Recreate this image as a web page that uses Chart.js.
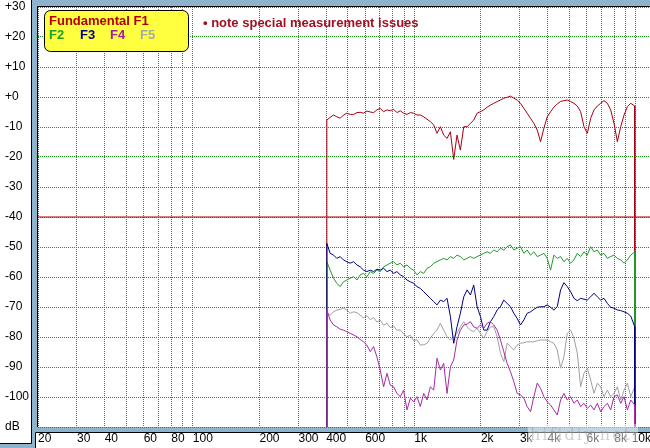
<!DOCTYPE html>
<html>
<head>
<meta charset="utf-8">
<title>Harmonic distortion</title>
<script src="https://cdn.jsdelivr.net/npm/chart.js@4.4.1/dist/chart.umd.min.js"></script>
<style>
  html, body { margin: 0; padding: 0; background: #8db4cc; }
  #wrap { position: relative; width: 650px; height: 448px; }
</style>
</head>
<body>
<div id="wrap"><canvas id="hdChart" width="650" height="448"></canvas></div>
<script>
// measurement frequencies (Hz), shared by all traces
const freqs = [
  403, 417, 432, 447, 463, 479, 496, 514, 532, 551,
  570, 590, 611, 633, 655, 678, 702, 727, 753, 779,
  807, 835, 865, 895, 927, 960, 993, 1029, 1065, 1103,
  1142, 1182, 1224, 1267, 1312, 1358, 1406, 1456, 1507, 1560,
  1615, 1673, 1732, 1793, 1856, 1922, 1990, 2060, 2133, 2208,
  2286, 2367, 2451, 2537, 2627, 2720, 2816, 2915, 3018, 3125,
  3235, 3350, 3468, 3591, 3717, 3849, 3985, 4126, 4271, 4422,
  4579, 4740, 4908, 5081, 5261, 5447, 5639, 5839, 6045, 6259,
  6480, 6709, 6946, 7191, 7445, 7709, 7981, 8263, 8555, 8857,
  9170, 9494, 9900
];

// Fundamental F1 (dB)
const f1 = [
  -7.7, -6.8, -6.0, -6.6, -7.1, -6.0, -5.4, -5.8, -5.8, -5.2,
  -5.1, -5.4, -4.7, -5.0, -5.2, -4.3, -3.8, -4.9, -4.3, -4.6,
  -4.1, -5.2, -4.6, -5.4, -5.8, -5.2, -5.4, -6.0, -6.0, -6.6,
  -7.4, -8.2, -9.3, -12.1, -9.9, -12.7, -13.8, -11.6, -20.8, -12.7,
  -17.7, -9.9, -9.9, -8.8, -7.7, -5.4, -4.9, -4.3, -3.4, -2.7,
  -2.1, -1.5, -1.0, -0.4, -0.1, 0.3, -0.4, -1.0, -2.1, -3.8,
  -5.4, -7.1, -8.8, -11.0, -14.9, -10.4, -6.6, -4.9, -3.4, -2.3,
  -1.5, -1.2, -1.0, -1.5, -2.1, -3.0, -4.9, -9.9, -12.1, -7.1,
  -4.3, -3.0, -2.1, -1.2, -2.1, -4.3, -8.8, -14.9, -9.9, -6.0,
  -3.2, -2.1, -3.0
];

// F2
const f2 = [
  -54.9, -57.7, -60.4, -62.1, -63.2, -61.6, -61.0, -60.4, -59.9, -61.0,
  -59.3, -58.8, -59.9, -58.2, -58.8, -57.7, -58.2, -56.6, -56.0, -55.4,
  -54.9, -56.0, -55.4, -56.6, -56.0, -57.1, -57.7, -59.3, -58.2, -58.8,
  -57.1, -56.6, -55.4, -54.9, -54.3, -53.8, -54.3, -53.2, -53.8, -52.7,
  -53.2, -54.3, -53.8, -53.2, -53.8, -53.2, -52.7, -52.1, -51.6, -52.1,
  -51.0, -51.6, -50.4, -51.0, -49.9, -49.3, -51.0, -50.4, -49.9, -52.1,
  -51.0, -52.7, -51.6, -53.2, -52.7, -52.1, -53.8, -57.7, -52.7, -53.8,
  -53.2, -54.9, -53.8, -55.4, -54.3, -52.1, -53.2, -51.6, -52.7, -49.9,
  -51.6, -51.0, -52.7, -52.1, -53.8, -53.2, -52.7, -53.8, -54.3, -55.4,
  -54.3, -52.7, -51.6
];

// F3
const f3 = [
  -48.8, -52.1, -52.7, -53.8, -53.2, -54.3, -54.9, -55.4, -54.9, -56.0,
  -56.6, -57.7, -58.2, -57.7, -58.2, -57.4, -57.7, -57.1, -58.2, -57.7,
  -58.8, -58.2, -59.3, -59.9, -61.0, -61.6, -62.1, -63.2, -63.8, -64.9,
  -66.0, -67.1, -68.2, -69.3, -67.7, -68.2, -67.1, -73.2, -82.1, -76.6,
  -72.1, -66.6, -64.3, -66.0, -62.7, -69.9, -73.2, -77.7, -77.7, -74.9,
  -73.2, -71.0, -69.9, -67.7, -68.8, -69.9, -72.1, -73.8, -76.0, -74.3,
  -72.1, -71.6, -70.8, -70.1, -69.9, -69.9, -69.3, -70.1, -71.0, -69.9,
  -64.3, -61.9, -63.2, -64.9, -67.1, -67.9, -67.1, -67.4, -67.7, -66.6,
  -65.4, -66.6, -67.7, -67.1, -68.8, -70.1, -70.4, -71.0, -71.2, -71.6,
  -72.1, -73.0, -76.6
];

// F4
const f4 = [
  -71.0, -74.3, -76.0, -76.6, -77.4, -77.7, -78.2, -78.8, -79.3, -79.9,
  -80.8, -81.6, -82.7, -84.9, -83.2, -86.6, -91.0, -96.6, -92.1, -96.0,
  -96.6, -98.8, -99.9, -97.7, -104.3, -100.4, -101.6, -99.9, -103.2, -98.8,
  -101.0, -96.6, -97.7, -87.1, -91.0, -88.8, -98.8, -89.9, -87.7, -81.0,
  -77.7, -76.0, -75.7, -74.9, -76.6, -77.1, -76.0, -77.1, -75.4, -74.9,
  -76.0, -77.7, -81.0, -84.9, -88.8, -91.6, -94.9, -98.8, -99.3, -100.4,
  -103.2, -104.9, -99.9, -95.4, -97.1, -99.9, -101.6, -102.7, -104.3, -106.0,
  -101.0, -98.8, -101.0, -99.9, -102.1, -101.0, -103.2, -102.1, -103.8, -102.7,
  -104.3, -102.1, -104.9, -103.2, -102.1, -104.3, -99.9, -99.3, -102.1, -99.9,
  -104.3, -101.0, -102.7
];

// F5
const f5 = [
  -72.1, -72.7, -71.6, -71.0, -70.8, -70.4, -71.0, -72.1, -71.6, -71.9,
  -72.7, -73.6, -72.9, -74.2, -73.5, -75.0, -74.4, -76.1, -75.4, -76.9,
  -76.3, -77.8, -77.6, -79.0, -79.9, -79.4, -81.2, -80.9, -82.7, -82.6,
  -82.1, -80.4, -78.8, -77.7, -75.4, -77.7, -79.9, -81.0, -79.9, -78.8,
  -76.6, -74.9, -76.6, -77.7, -78.2, -77.1, -78.8, -80.4, -78.2, -76.6,
  -76.6, -79.9, -85.4, -88.2, -82.1, -83.2, -84.3, -82.7, -82.1, -81.9,
  -81.6, -81.6, -81.6, -81.2, -81.0, -81.0, -81.0, -81.6, -82.1, -84.3,
  -90.4, -86.6, -78.8, -77.7, -80.4, -85.4, -96.6, -92.1, -90.4, -94.3,
  -98.8, -95.4, -96.6, -99.9, -97.7, -99.9, -98.8, -96.6, -101.0, -97.7,
  -95.4, -99.9, -96.6
];

const refLevel = -40;

// axis ticks: grid lines at every 1..9 step, labels only on some
const xGridFreqs = [20, 30, 40, 50, 60, 70, 80, 90,
  100, 200, 300, 400, 500, 600, 700, 800, 900,
  1000, 2000, 3000, 4000, 5000, 6000, 7000, 8000, 9000, 10000];
const xLabelFreqs = [20, 30, 40, 60, 80, 100, 200, 300, 400, 600, 1000, 2000, 3000, 4000, 6000, 8000, 10000];
const xLabelTexts = ['20', '30', '40', '60', '80', '100', '200', '300', '400', '600', '1k', '2k', '3k', '4k', '6k', '8k', '10k'];
const yTickValues = [30, 20, 10, 0, -10, -20, -30, -40, -50, -60, -70, -80, -90, -100, -110];
const yTickLabels = ['+30', '+20', '+10', '+0', '-10', '-20', '-30', '-40', '-50', '-60', '-70', '-80', '-90', '-100', 'dB'];

const X_MIN = 20, X_MAX = 11600, Y_MIN = -110, Y_MAX = 30;
// the last label ("10k") is pulled in a little so it fits at the right edge
const LAST_LABEL_AT = 9584;
const tickFont = { family: 'Arial, "Liberation Sans", sans-serif', size: 12 };
const gridGreen = '#149a14';
const panelBlue = '#8db4cc';

// trace with vertical edges down to the floor, like the analyser draws it
function trace(values) {
  const pts = freqs.map((f, i) => ({ x: f, y: values[i] }));
  pts.unshift({ x: freqs[0], y: Y_MIN });
  pts.push({ x: freqs[freqs.length - 1], y: Y_MIN });
  return pts;
}

function line(label, values, color, order) {
  return {
    label: label,
    data: trace(values),
    borderColor: color,
    borderWidth: 1,
    pointRadius: 0,
    tension: 0,
    order: order
  };
}

function xLabel(v) {
  if (v === LAST_LABEL_AT) return xLabelTexts[xLabelTexts.length - 1];
  const i = xLabelFreqs.indexOf(v);
  return i >= 0 && i < xLabelFreqs.length - 1 ? xLabelTexts[i] : '';
}

const framePlugin = {
  id: 'frame',
  beforeDraw(chart) {
    const { ctx, chartArea: a } = chart;
    const w = chart.width, h = chart.height;
    ctx.save();
    ctx.fillStyle = panelBlue;
    ctx.fillRect(0, 0, w, h);
    ctx.fillStyle = '#ffffff';
    ctx.fillRect(0, 0, 31, 443);                                   // dB panel
    ctx.fillRect(a.left - 1, a.top, a.right - a.left + 1, a.bottom - a.top); // plot
    ctx.fillRect(35, 432, w - 35, h - 432);                        // Hz panel
    ctx.strokeStyle = '#000';
    ctx.lineWidth = 1;
    ctx.beginPath();
    ctx.moveTo(31.5, 0); ctx.lineTo(31.5, 443.5); ctx.lineTo(0, 443.5);
    ctx.moveTo(35.5, h); ctx.lineTo(35.5, 432.5); ctx.lineTo(w, 432.5);
    ctx.stroke();
    ctx.restore();
  },
  afterDraw(chart) {
    const { ctx, chartArea: a } = chart;
    ctx.save();
    // plot frame (top and left only)
    ctx.strokeStyle = '#000';
    ctx.lineWidth = 1;
    ctx.beginPath();
    ctx.moveTo(a.left - 0.5, a.bottom); ctx.lineTo(a.left - 0.5, a.top - 0.5); ctx.lineTo(a.right, a.top - 0.5);
    ctx.stroke();

    // legend box
    ctx.fillStyle = '#ffff40';
    ctx.beginPath();
    ctx.roundRect(44.5, 10.5, 144, 41, 6);
    ctx.fill();
    ctx.stroke();
    ctx.font = 'bold 13px Arial, "Liberation Sans", sans-serif';
    ctx.textBaseline = 'alphabetic';
    ctx.textAlign = 'left';
    ctx.fillStyle = '#b00000';
    ctx.fillText('Fundamental F1', 49, 25);
    const legend = [['F2', '#22a022', 49], ['F3', '#000080', 80], ['F4', '#a020a0', 110], ['F5', '#a8a8a8', 140]];
    legend.forEach(([t, c, x]) => { ctx.fillStyle = c; ctx.fillText(t, x, 39); });

    // note
    ctx.fillStyle = '#a01020';
    ctx.fillText('\u2022 note special measurement issues', 203, 27);

    // watermark
    ctx.fillStyle = 'rgba(255,255,255,0.45)';
    ctx.fillRect(528, 424, 110, 20);
    ctx.font = '16px "DejaVu Serif", serif';
    ctx.letterSpacing = '2px';
    ctx.fillStyle = 'rgba(150,150,150,0.45)';
    ctx.fillText('hifidiy.net', 530, 440);
    ctx.restore();
  }
};

const ctx = document.getElementById('hdChart').getContext('2d');
new Chart(ctx, {
  type: 'line',
  data: {
    datasets: [
      line('F1', f1, '#a80010', 4),
      line('F2', f2, '#22992a', 3),
      line('F3', f3, '#000080', 2),
      line('F4', f4, '#a52aa5', 1),
      line('F5', f5, '#a0a0a0', 5),
      {
        label: 'level',
        data: [{ x: X_MIN, y: refLevel }, { x: X_MAX, y: refLevel }],
        borderColor: '#b00000',
        borderWidth: 1,
        pointRadius: 0,
        order: 6
      }
    ]
  },
  options: {
    responsive: false,
    animation: false,
    devicePixelRatio: 1,
    layout: { padding: { left: 5, top: 7, right: 0, bottom: 0 } },
    plugins: { legend: { display: false }, tooltip: { enabled: false } },
    scales: {
      x: {
        type: 'logarithmic',
        min: X_MIN,
        max: X_MAX,
        afterBuildTicks: (s) => {
          s.ticks = xGridFreqs.concat([LAST_LABEL_AT]).sort((p, q) => p - q).map(v => ({ value: v }));
        },
        afterFit: (s) => { s.height = 21; s.paddingLeft = 0; s.paddingRight = 0; },
        ticks: {
          autoSkip: false,
          maxRotation: 0,
          align: 'start',
          padding: 4,
          color: '#000',
          font: tickFont,
          callback: (v) => xLabel(v)
        },
        grid: {
          color: (c) => (c.tick && c.tick.value === LAST_LABEL_AT ? 'rgba(0,0,0,0)' : gridGreen),
          drawTicks: false
        },
        border: { display: false, dash: [1, 1] }
      },
      y: {
        min: Y_MIN,
        max: Y_MAX,
        afterBuildTicks: (s) => { s.ticks = yTickValues.map(v => ({ value: v })); },
        afterFit: (s) => { s.width = 33; s.paddingTop = 0; s.paddingBottom = 0; },
        ticks: {
          crossAlign: 'far',
          padding: 0,
          color: '#000',
          font: tickFont,
          callback: (v) => yTickLabels[yTickValues.indexOf(v)]
        },
        grid: { color: gridGreen, drawTicks: false },
        border: { display: false, dash: [1, 1] }
      }
    }
  },
  plugins: [framePlugin]
});
</script>
</body>
</html>
